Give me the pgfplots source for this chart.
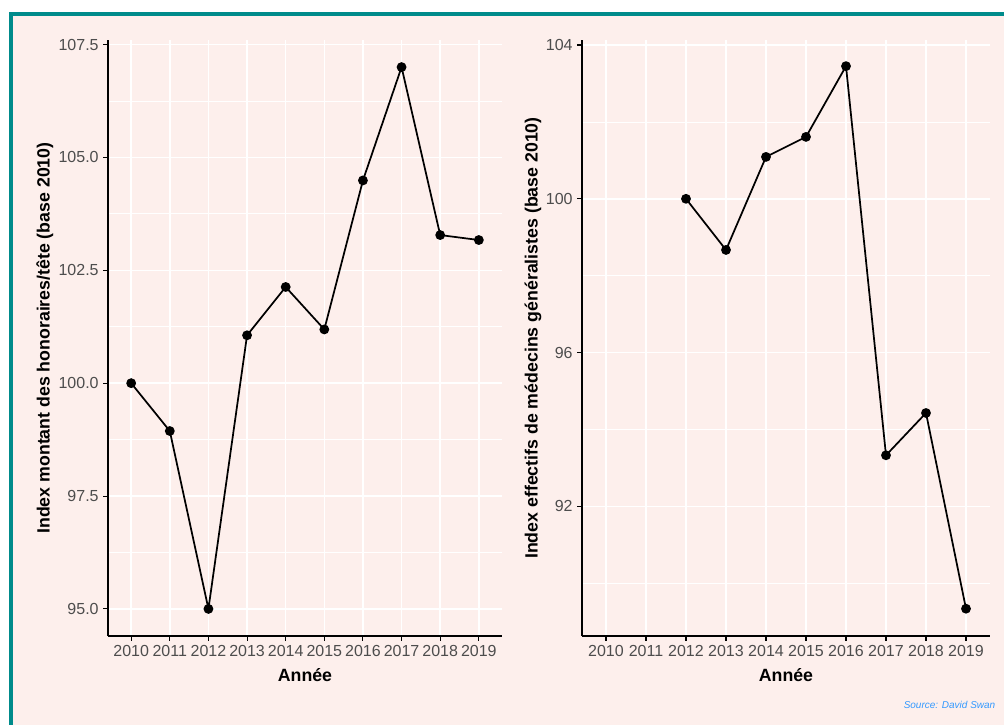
\documentclass[border=0pt]{standalone}
\usepackage{fontspec}
\setmainfont{Liberation Sans}
\usepackage{pgfplots}
\pgfplotsset{compat=1.18}
\definecolor{bgpink}{HTML}{FDEFEC}
\definecolor{frame}{HTML}{008B8B}
\definecolor{ticktext}{HTML}{4D4D4D}
\definecolor{srcblue}{RGB}{51,153,255}

\pgfplotsset{
  ggpanel/.style={
    scale only axis,
    height=447pt,
    axis x line*=bottom,
    axis y line*=left,
    axis line style={black, line width=1.1pt},
    xmin=2009.4, xmax=2019.6,
    xtick={2010,2011,2012,2013,2014,2015,2016,2017,2018,2019},
    xticklabels={2010,2011,2012,2013,2014,2015,2016,2017,2018,2019},
    tick align=outside,
    major tick length=3.5pt,
    minor tick length=0pt,
    tick style={black, line width=0.8pt},
    xmajorgrids, ymajorgrids, yminorgrids,
    major grid style={white, line width=1.1pt},
    minor grid style={white, line width=0.55pt},
    ticklabel style={font=\fontsize{12}{14}\selectfont, text=ticktext},
    /pgf/number format/assume math mode=true,
    every axis x label/.style={at={(axis description cs:0.5,0)}, yshift=-29pt, anchor=center,
      font=\fontsize{13.3}{15}\selectfont\bfseries},
    xlabel={Année},
  },
  ggline/.style={black, line width=1.3pt, mark=*, mark size=3pt, mark options={fill=black}},
}

\begin{document}
\begin{tikzpicture}
% page background and frame
\fill[white] (0pt,0pt) rectangle (753pt,-543.75pt);
\fill[frame] (6.75pt,-9pt) rectangle (753pt,-543.75pt);
\fill[bgpink] (10pt,-12pt) rectangle (753pt,-543.75pt);

% left panel
\begin{axis}[
  ggpanel,
  at={(81pt,-477pt)}, anchor=south west,
  width=295.5pt,
  ymin=94.4, ymax=107.6,
  ytick={95,97.5,100,102.5,105,107.5},
  minor ytick={96.25,98.75,101.25,103.75,106.25},
  yticklabel style={/pgf/number format/.cd, fixed, fixed zerofill, precision=1},
  every axis y label/.style={at={(axis description cs:-0.16,0.5)}, rotate=90, anchor=center,
    font=\fontsize{13.3}{15}\selectfont\bfseries},
  ylabel={Index montant des honoraires/tête (base 2010)},
]
\addplot[ggline] coordinates {
  (2010,100.00) (2011,98.94) (2012,95.00) (2013,101.06) (2014,102.13)
  (2015,101.19) (2016,104.49) (2017,107.00) (2018,103.28) (2019,103.17)
};
\end{axis}

% right panel
\begin{axis}[
  ggpanel,
  at={(436.5pt,-477pt)}, anchor=south west,
  width=306pt,
  ymin=88.63, ymax=104.13,
  ytick={92,96,100,104},
  minor ytick={90,94,98,102},
  every axis y label/.style={at={(axis description cs:-0.12,0.5)}, rotate=90, anchor=center,
    font=\fontsize{13.3}{15}\selectfont\bfseries},
  ylabel={Index effectifs de médecins généralistes (base 2010)},
]
\addplot[ggline] coordinates {
  (2012,100.00) (2013,98.67) (2014,101.09) (2015,101.61) (2016,103.45)
  (2017,93.33) (2018,94.43) (2019,89.34)
};
\end{axis}

\node[anchor=east, font=\fontsize{7.5}{9}\selectfont\itshape, text=srcblue] at (750pt,-528.75pt) {Source: David Swan};
\end{tikzpicture}
\end{document}
